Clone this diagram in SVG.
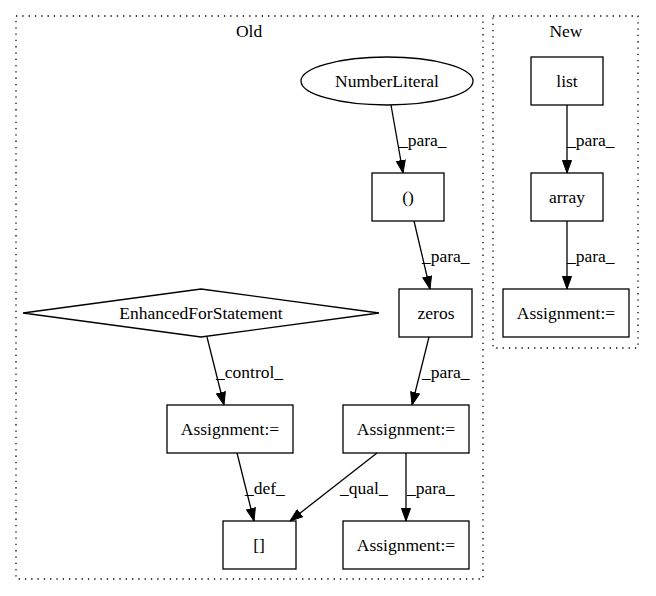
<svg xmlns="http://www.w3.org/2000/svg" width="656" height="596" viewBox="0 0 656 596">
<style>
text{font-family:"Liberation Serif","Times New Roman",serif;font-size:17.5px;fill:#000}
.n{fill:none;stroke:#000;stroke-width:1.3}
.c{fill:none;stroke:#000;stroke-width:1.3;stroke-dasharray:1.3,5}
.e{fill:none;stroke:#000;stroke-width:1.3;marker-end:url(#a)}
.m{text-anchor:middle}
</style>
<defs>
<marker id="a" markerWidth="13" markerHeight="10" refX="13" refY="5" orient="auto" markerUnits="userSpaceOnUse">
<path d="M0.5,0.5 L13,5 L0.5,9.5 Z" fill="#000" stroke="#000"/>
</marker>
</defs>
<rect width="656" height="596" fill="#fff"/>
<g id="cluster_old">
<rect class="c" x="16" y="16" width="467" height="563"/>
<text class="m" x="249" y="37">Old</text>
</g>
<g id="cluster_new">
<rect class="c" x="493" y="16" width="145" height="332"/>
<text class="m" x="566" y="37">New</text>
</g>
<g id="edges">
<path class="e" d="M391,105 L403,173"/>
<text x="399" y="146">_para_</text>
<path class="e" d="M414,221 L430,289"/>
<text x="422" y="262">_para_</text>
<path class="e" d="M207,337 L224,405"/>
<text x="216" y="378">_control_</text>
<path class="e" d="M429,337 L412,405"/>
<text x="422" y="378">_para_</text>
<path class="e" d="M237,453 L254,521"/>
<text x="245" y="494">_def_</text>
<path class="e" d="M377,453 L290,521"/>
<text x="340" y="494">_qual_</text>
<path class="e" d="M406,453 L406,521"/>
<text x="407" y="494">_para_</text>
<path class="e" d="M567,105 L567,173"/>
<text x="567" y="146">_para_</text>
<path class="e" d="M567,221 L567,289"/>
<text x="567" y="262">_para_</text>
</g>
<g id="NumberLiteral">
<ellipse class="n" cx="387" cy="81" rx="86" ry="24"/>
<text class="m" x="387" y="87">NumberLiteral</text>
</g>
<g id="paren">
<rect class="n" x="372" y="173" width="72" height="48"/>
<text class="m" x="408" y="203">()</text>
</g>
<g id="zeros">
<rect class="n" x="399" y="289" width="73" height="48"/>
<text class="m" x="436" y="319">zeros</text>
</g>
<g id="EnhancedForStatement">
<polygon class="n" points="201,289 379,313 201,337 23,313"/>
<text class="m" x="201" y="319">EnhancedForStatement</text>
</g>
<g id="assign_left">
<rect class="n" x="167" y="405" width="126" height="48"/>
<text class="m" x="230" y="435">Assignment:=</text>
</g>
<g id="assign_mid">
<rect class="n" x="343" y="405" width="126" height="48"/>
<text class="m" x="406" y="435">Assignment:=</text>
</g>
<g id="brackets">
<rect class="n" x="223" y="521" width="73" height="48"/>
<text class="m" x="259" y="551">[]</text>
</g>
<g id="assign_bottom">
<rect class="n" x="343" y="521" width="126" height="48"/>
<text class="m" x="406" y="551">Assignment:=</text>
</g>
<g id="list">
<rect class="n" x="531" y="57" width="72" height="48"/>
<text class="m" x="567" y="87">list</text>
</g>
<g id="array">
<rect class="n" x="531" y="173" width="72" height="48"/>
<text class="m" x="567" y="203">array</text>
</g>
<g id="assign_new">
<rect class="n" x="503" y="289" width="126" height="48"/>
<text class="m" x="566" y="319">Assignment:=</text>
</g>
</svg>
